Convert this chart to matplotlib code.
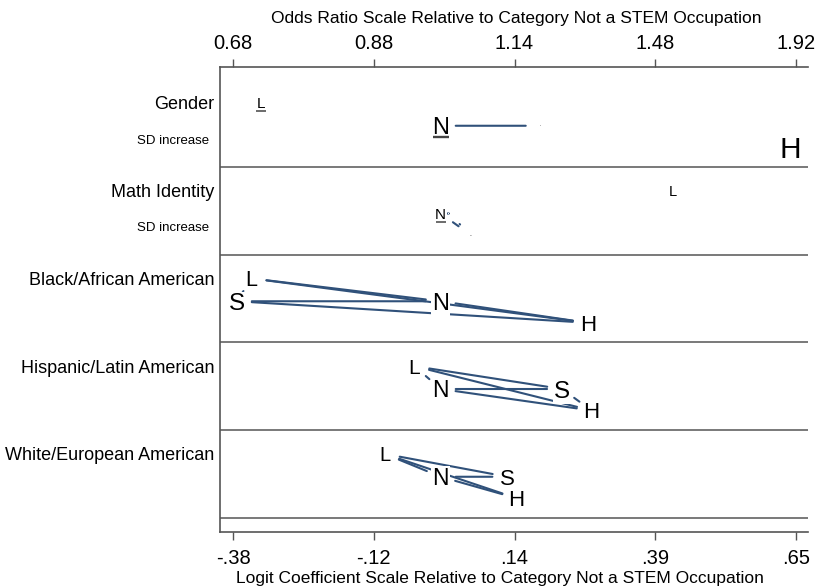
import numpy as np
import matplotlib
matplotlib.use("Agg")
import matplotlib.pyplot as plt
from itertools import combinations

plt.rcParams["font.family"] = ["Liberation Sans", "DejaVu Sans"]

# Predictors (one panel each) and their unit labels
variables = ["Gender", "Math Identity", "Black/African American",
             "Hispanic/Latin American", "White/European American"]
units = ["SD increase", "SD increase", "", "", ""]

# Outcome letters, logit coefficients relative to N (Not a STEM Occupation)
outcomes = ["L", "N", "S", "H"]
coef = {
    "L": [-0.329, 0.424, -0.346, -0.048, -0.102],
    "N": [0.0, 0.0, 0.0, 0.0, 0.0],
    "S": [0.183, 0.015, -0.373, 0.222, 0.122],
    "H": [0.640, 0.055, 0.269, 0.276, 0.139],
}
# Letter size scaled by discrete change
letter_size = {
    "L": [11, 10.5, 15.5, 15, 14.5],
    "N": [17, 11, 17, 16.5, 16.5],
    "S": [1, 1, 17.5, 17.5, 16],
    "H": [21.5, 1.5, 16, 16, 16],
}
# Underlined = not significant
underlined = {
    "L": [True, False, False, False, False],
    "N": [True, True, False, False, False],
    "S": [False, False, False, False, False],
    "H": [False, False, False, False, False],
}
# Pairs of outcomes joined by a line (not significantly different)
all_pairs = list(combinations(outcomes, 2))
links = [
    [("N", "S")],
    [("N", "H"), ("N", "S"), ("S", "H")],
    all_pairs,
    all_pairs,
    all_pairs,
]

# Logit axis ticks
logit_ticks = np.linspace(-0.38, 0.65, 5)

# Vertical slot of each letter inside a panel
slot = {"L": 0.27, "N": 0.53, "S": 0.53, "H": 0.775}

W, H = 816, 586
PT = 100 / 72  # pixels per point
fig = plt.figure(figsize=(W / 100, H / 100), dpi=100)
ax_l, ax_r, ax_t, ax_b = 220, 808, 67, 532
ax = fig.add_axes([ax_l / W, 1 - ax_b / H, (ax_r - ax_l) / W, (ax_b - ax_t) / H])

px_per_unit = 546.6
x0 = -0.38 - 13 / px_per_unit
x1 = 0.65 + 12 / px_per_unit
row_px = 87.75
y_top = (ax_t - 79.25) / row_px
y_bot = (ax_b - 79.25) / row_px
ax.set_xlim(x0, x1)
ax.set_ylim(y_bot, y_top)

spine_col = "#555555"
for s in ["left", "top", "bottom"]:
    ax.spines[s].set_color(spine_col)
    ax.spines[s].set_linewidth(1.2)
ax.spines["right"].set_visible(False)

for k in range(1, len(variables) + 1):
    ax.axhline(k, color=spine_col, lw=1.1, zorder=1)

ax.set_yticks([])
ax.set_xticks(logit_ticks)


def stata_fmt(v):
    s = f"{v:.2f}"
    return s.replace("0.", ".", 1) if s.startswith(("0.", "-0.")) else s


ax.set_xticklabels([stata_fmt(t) for t in logit_ticks], fontsize=14.5)
ax.tick_params(axis="x", direction="out", length=6, width=1, color=spine_col, pad=6)

ax2 = ax.twiny()
ax2.set_xlim(ax.get_xlim())
ax2.set_xticks(logit_ticks)
ax2.set_xticklabels([f"{np.exp(t):.2f}" for t in logit_ticks], fontsize=14.5)
ax2.tick_params(axis="x", direction="out", length=6, width=1, color=spine_col, pad=4)
for s in ax2.spines.values():
    s.set_visible(False)

fig.text(516 / W, 1 - 18 / H, "Odds Ratio Scale Relative to Category Not a STEM Occupation",
         ha="center", va="center", fontsize=12.5)
fig.text(500 / W, 1 - 578 / H, "Logit Coefficient Scale Relative to Category Not a STEM Occupation",
         ha="center", va="center", fontsize=12.5)

ytrans = ax.get_yaxis_transform()
line_col = "#30517a"
shrink = 10.8

for i, var in enumerate(variables):
    # panel labels
    ax.annotate(var, xy=(0, i + 0.27), xycoords=ytrans, xytext=(-4, -0.358 * 13),
                textcoords="offset points", ha="right", va="baseline", fontsize=13,
                annotation_clip=False)
    if units[i]:
        ax.annotate(units[i], xy=(0, i + 0.68), xycoords=ytrans, xytext=(-8, -0.358 * 9.5),
                    textcoords="offset points", ha="right", va="baseline", fontsize=9.5,
                    annotation_clip=False)

    pos = {o: (coef[o][i], i + slot[o]) for o in outcomes}

    # connecting lines
    for a, b in links[i]:
        ax.annotate("", xy=pos[b], xytext=pos[a],
                    arrowprops=dict(arrowstyle="-", shrinkA=shrink, shrinkB=shrink,
                                    color=line_col, lw=1.5), zorder=2)

    # outcome letters
    for o in outcomes:
        fs = letter_size[o][i]
        x, y = pos[o]
        ax.annotate(o, xy=(x, y), xytext=(0, -0.358 * fs), textcoords="offset points",
                    ha="center", va="baseline", fontsize=fs, color="black",
                    bbox=dict(boxstyle="square,pad=0.05", fc="white", ec="none"),
                    zorder=3)
        if underlined[o][i]:
            half_w = 0.34 * fs * PT / px_per_unit
            uy = y + (0.36 * fs * PT + 2.5) / row_px
            ax.plot([x - half_w, x + half_w], [uy, uy], color="#444444",
                    lw=max(1.0, fs / 10), solid_capstyle="butt", zorder=4)

fig.savefig("out.png", dpi=100)
